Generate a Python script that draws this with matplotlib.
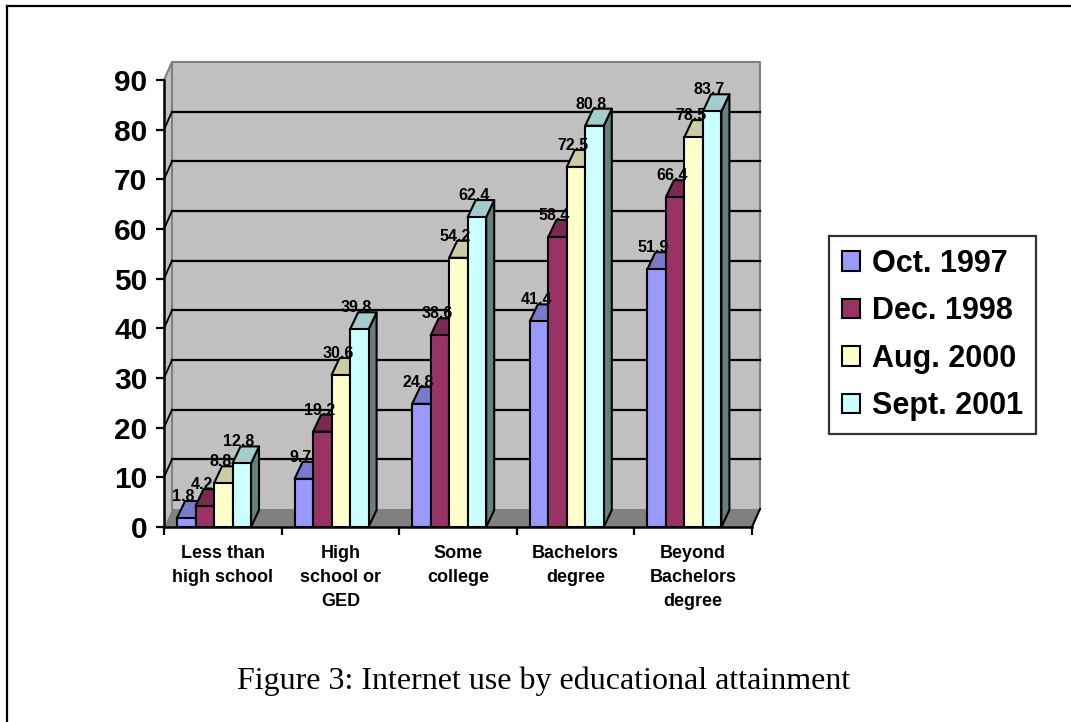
import matplotlib
matplotlib.use("Agg")
import matplotlib.pyplot as plt
from matplotlib.patches import Polygon, Patch
from matplotlib.lines import Line2D
import numpy as np

plt.rcParams['font.family'] = ['Liberation Sans', 'DejaVu Sans']

# data
categories = ["Less than\nhigh school", "High\nschool or\nGED", "Some\ncollege",
              "Bachelors\ndegree", "Beyond\nBachelors\ndegree"]
series_names = ["Oct. 1997", "Dec. 1998", "Aug. 2000", "Sept. 2001"]
oct_1997 = [1.8, 9.7, 24.8, 41.4, 51.9]
dec_1998 = [4.2, 19.2, 38.6, 58.4, 66.4]
aug_2000 = [8.8, 30.6, 54.2, 72.5, 78.5]
sept_2001 = [12.8, 39.8, 62.4, 80.8, 83.7]
series = [oct_1997, dec_1998, aug_2000, sept_2001]
y_ticks = list(range(0, 100, 10))
caption = "Figure 3: Internet use by educational attainment"

# colours: front, top, side
front_cols = ["#9999FF", "#993366", "#FFFFCC", "#CCFFFF"]
top_cols = ["#7A7ACC", "#7A2952", "#CCCCA3", "#A3CCCC"]
side_cols = ["#4D4D80", "#4D1A33", "#808066", "#668080"]

W, H = 1071, 722
fig = plt.figure(figsize=(W / 100, H / 100), dpi=100)
fig.patch.set_facecolor("white")

# axes placed in pixels: x 164..752, y 527..80 (from top)
ax = fig.add_axes([164 / W, (H - 527) / H, 588 / W, 447 / H])
ax.set_xlim(0, 5)
ax.set_ylim(0, 90)
ax.set_facecolor("none")

PX = 5 / 588      # data units per pixel in x
PY = 90 / 447     # data units per pixel in y
DX, DY = 8 * PX, 18 * PY   # depth offset of walls
BDX, BDY = 8 * PX, 17 * PY  # depth offset of bars

# walls and floor
wall = "#C0C0C0"
ax.add_patch(Polygon([(DX, DY), (5 + DX, DY), (5 + DX, 90 + DY), (DX, 90 + DY)],
                     closed=True, fc=wall, ec="none", zorder=0, clip_on=False))
ax.add_patch(Polygon([(0, 0), (DX, DY), (DX, 90 + DY), (0, 90)],
                     closed=True, fc=wall, ec="none", zorder=0, clip_on=False))
ax.add_patch(Polygon([(0, 0), (5, 0), (5 + DX, DY), (DX, DY)],
                     closed=True, fc="#808080", ec="none", zorder=1, clip_on=False))
# wall edges
ax.plot([DX, DX], [DY, 90 + DY], color="#808080", lw=1.5, zorder=1, clip_on=False)
ax.plot([0, DX, 5 + DX, 5 + DX], [90, 90 + DY, 90 + DY, DY], color="#808080",
        lw=1.5, zorder=1, clip_on=False)
ax.plot([5, 5 + DX], [0, DY], color="black", lw=1.5, zorder=2, clip_on=False)

# gridlines on back wall and left wall
for v in y_ticks[1:-1]:
    ax.plot([DX, 5 + DX], [v + DY, v + DY], color="black", lw=1.6, zorder=2, clip_on=False)
    ax.plot([0, DX], [v, v + DY], color="black", lw=1.3, zorder=2, clip_on=False)

# bars
gap = 13 * PX
bw = 18.5 * PX
xs = np.arange(len(categories))
for j, vals in enumerate(series):
    left = xs + gap + j * bw
    z = 10 + j
    ax.bar(left, vals, width=bw, align="edge", color=front_cols[j],
           edgecolor="black", linewidth=1.5, zorder=z + 0.5)
    for x, v in zip(left, vals):
        ax.add_patch(Polygon([(x + bw, 0), (x + bw + BDX, BDY), (x + bw + BDX, v + BDY), (x + bw, v)],
                             closed=True, fc=side_cols[j], ec="black", lw=1.5, zorder=z,
                             clip_on=False, joinstyle="round"))
        ax.add_patch(Polygon([(x, v), (x + bw, v), (x + bw + BDX, v + BDY), (x + BDX, v + BDY)],
                             closed=True, fc=top_cols[j], ec="black", lw=1.5, zorder=z,
                             clip_on=False, joinstyle="round"))
        ax.text(x + bw / 2 - 3 * PX, v + BDY, f"{v}", ha="center", va="baseline",
                fontsize=11.5, fontweight="bold", zorder=30, clip_on=False)

# axes / ticks
for s in ["top", "right"]:
    ax.spines[s].set_visible(False)
ax.spines["left"].set_linewidth(1.8)
ax.spines["bottom"].set_linewidth(1.8)
ax.spines["left"].set_zorder(5)
ax.spines["bottom"].set_zorder(5)
ax.set_yticks(y_ticks)
ax.set_yticklabels([str(t) for t in y_ticks], fontsize=21.5, fontweight="bold")
ax.tick_params(axis="y", length=6, width=1.6, pad=6)
ax.set_xticks(range(6))
ax.set_xticklabels([])
ax.tick_params(axis="x", which="major", length=6, width=1.6)
ax.set_xticks(xs + 0.5, minor=True)
ax.set_xticklabels(categories, minor=True, fontsize=13, fontweight="bold",
                   linespacing=1.55, va="top")
ax.tick_params(axis="x", which="minor", length=0, pad=13)

# legend
handles = [Patch(facecolor=c, edgecolor="black", linewidth=1.5) for c in front_cols]
leg = fig.legend(handles, series_names, loc="upper left",
                 bbox_to_anchor=(829 / W, 1 - 236 / H), borderaxespad=0,
                 prop={"size": 22, "weight": "bold"}, frameon=True, fancybox=False,
                 handlelength=0.6, handleheight=0.6, handletextpad=0.4,
                 labelspacing=0.57, borderpad=0.42)
leg.get_frame().set_edgecolor("black")
leg.get_frame().set_linewidth(1.6)

# caption
fig.text(544 / W, 33 / H, caption, ha="center", va="baseline", fontsize=23,
         family=["Liberation Serif", "DejaVu Serif"])

# page border (top and left)
fig.add_artist(Line2D([7 / W, 7 / W], [0, 1 - 5.5 / H], color="black", lw=1.6,
                      transform=fig.transFigure))
fig.add_artist(Line2D([7 / W, 1], [1 - 5.5 / H, 1 - 5.5 / H], color="black", lw=1.6,
                      transform=fig.transFigure))

fig.savefig("out.png", dpi=100)
